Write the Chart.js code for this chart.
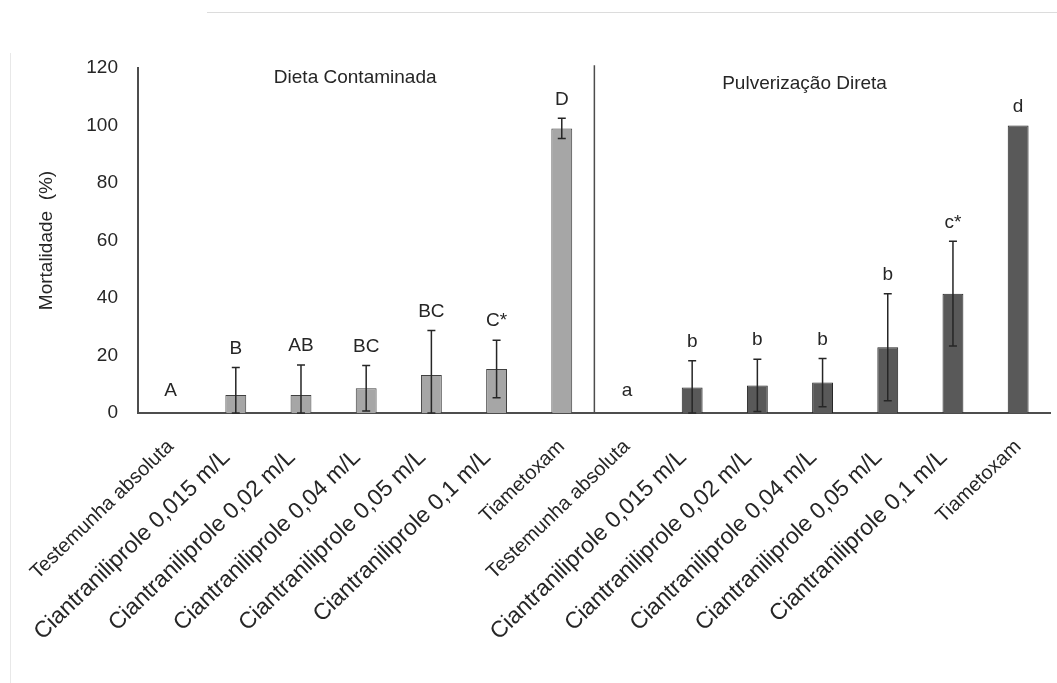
<!DOCTYPE html>
<html>
<head>
<meta charset="utf-8">
<script src="https://cdn.jsdelivr.net/npm/chart.js@4.4.0/dist/chart.umd.min.js"></script>
<style>
html, body { margin: 0; padding: 0; background: #fff; }
#wrap { position: relative; width: 1057px; height: 683px; overflow: hidden; }
#topLine { position: absolute; left: 207px; top: 12px; width: 850px; height: 1px; background: #dcdcdc; }
#leftLine { position: absolute; left: 10px; top: 53px; width: 1px; height: 630px; background: #e8e8e8; }
canvas { position: absolute; left: 0; top: 0; }
</style>
</head>
<body>
<div id="wrap">
  <div id="topLine"></div>
  <div id="leftLine"></div>
  <canvas id="chart" width="1057" height="683"></canvas>
</div>
<script>
// treatments (same list for both application methods)
const treatments = [
    'Testemunha absoluta',
    'Ciantraniliprole 0,015 m/L',
    'Ciantraniliprole 0,02 m/L',
    'Ciantraniliprole 0,04 m/L',
    'Ciantraniliprole 0,05 m/L',
    'Ciantraniliprole 0,1 m/L',
    'Tiametoxam'
];
const groupNames = ['Dieta Contaminada', 'Pulverização Direta'];

// mortality (%) and error
const dietaValues = [0, 6.3, 6.3, 8.6, 13.2, 15.3, 99.0];
const dietaErrors = [0, 9.5, 10.4, 7.9, 15.5, 10.0, 3.5];
const dietaLetters = ['A', 'B', 'AB', 'BC', 'BC', 'C*', 'D'];

const pulvValues = [0, 8.9, 9.6, 10.6, 22.9, 41.5, 100];
const pulvErrors = [0, 9.3, 9.1, 8.4, 18.6, 18.2, 0];
const pulvLetters = ['a', 'b', 'b', 'b', 'b', 'c*', 'd'];

const yTicks = [0, 20, 40, 60, 80, 100, 120];

const labels = treatments.concat(treatments);
const values = dietaValues.concat(pulvValues);
const errors = dietaErrors.concat(pulvErrors);
const letters = dietaLetters.concat(pulvLetters);

const fontFamily = '"Liberation Sans", Arial, sans-serif';
const textColor = '#262626';

const fillColors = labels.map((l, i) => i < treatments.length ? '#a6a6a6' : '#595959');
const edgeColors = labels.map((l, i) => i < treatments.length ? '#404040' : '#262626');

function isLong(name) {
    return name.startsWith('Cian');
}

// error bars, letters, divider and group titles
const annotatePlugin = {
    id: 'annotate',
    afterDatasetsDraw(chart) {
        const ctx = chart.ctx;
        const xs = chart.scales.x;
        const ys = chart.scales.y;
        ctx.save();

        // divider between the two groups
        const divX = (xs.getPixelForValue(treatments.length - 1) + xs.getPixelForValue(treatments.length)) / 2;
        ctx.strokeStyle = '#4d4d4d';
        ctx.lineWidth = 1.5;
        ctx.beginPath();
        ctx.moveTo(divX, ys.getPixelForValue(121));
        ctx.lineTo(divX, ys.bottom);
        ctx.stroke();

        ctx.strokeStyle = '#262626';
        ctx.lineWidth = 1.5;
        ctx.fillStyle = textColor;
        ctx.font = '19px ' + fontFamily;
        ctx.textAlign = 'center';
        ctx.textBaseline = 'middle';
        const cap = 4;
        values.forEach((v, i) => {
            const e = errors[i];
            const px = xs.getPixelForValue(i);
            const top = ys.getPixelForValue(v + e);
            if (e > 0) {
                const bottom = ys.getPixelForValue(Math.max(v - e, 0));
                ctx.beginPath();
                ctx.moveTo(px, top);
                ctx.lineTo(px, bottom);
                ctx.moveTo(px - cap, top);
                ctx.lineTo(px + cap, top);
                ctx.moveTo(px - cap, bottom);
                ctx.lineTo(px + cap, bottom);
                ctx.stroke();
            }
            const offset = v === 0 ? 22 : 19;
            ctx.fillText(letters[i], px, top - offset);
        });

        // group titles
        ctx.font = '19px ' + fontFamily;
        ctx.fillText(groupNames[0], xs.getPixelForValue(3) - 11, 78);
        ctx.fillText(groupNames[1], xs.getPixelForValue(10) - 18, 84);
        ctx.restore();
    }
};

const config = {
    type: 'bar',
    data: {
        labels: labels,
        datasets: [{
            label: 'Mortalidade',
            data: values,
            backgroundColor: fillColors,
            borderColor: edgeColors,
            borderWidth: 1,
            borderSkipped: 'bottom',
            barPercentage: 0.32,
            categoryPercentage: 1.0
        }]
    },
    options: {
        responsive: false,
        animation: false,
        layout: { padding: { left: 31, right: 5, top: 68, bottom: 0 } },
        plugins: {
            legend: { display: false },
            tooltip: { enabled: false }
        },
        scales: {
            x: {
                offset: true,
                grid: { display: false, drawTicks: false },
                border: { display: true, color: '#4d4d4d', width: 2 },
                ticks: {
                    autoSkip: false,
                    minRotation: 44,
                    maxRotation: 44,
                    padding: 22,
                    color: textColor,
                    // the long labels sit a little lower in the original
                    callback: (value, index) => isLong(labels[index]) ? labels[index] + '  ' : labels[index],
                    font: (c) => {
                        const name = labels[c.index] || '';
                        return { family: fontFamily, size: isLong(name) ? 23 : 20 };
                    }
                },
                afterFit: (scale) => { scale.height = 270; }
            },
            y: {
                min: 0,
                max: 120,
                afterBuildTicks: (scale) => { scale.ticks = yTicks.map(v => ({ value: v })); },
                grid: { display: false, drawTicks: false },
                border: { display: true, color: '#4d4d4d', width: 2 },
                ticks: {
                    padding: 20,
                    color: textColor,
                    font: { family: fontFamily, size: 19 }
                },
                title: {
                    display: true,
                    text: 'Mortalidade  (%)',
                    color: textColor,
                    font: { family: fontFamily, size: 19 },
                    padding: { top: 4, bottom: 4 }
                },
                afterFit: (scale) => { scale.width = 107; }
            }
        }
    },
    plugins: [annotatePlugin]
};

const ctx = document.getElementById('chart').getContext('2d');
const mortalityChart = new Chart(ctx, config);
</script>
</body>
</html>
